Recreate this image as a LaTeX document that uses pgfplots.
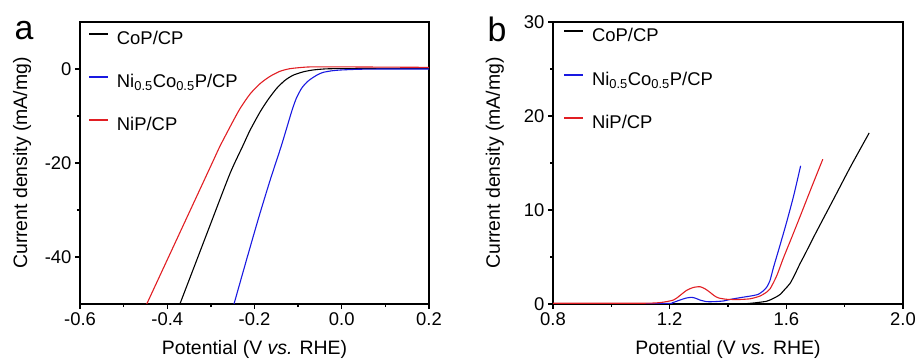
\documentclass[border=0pt]{standalone}
\usepackage{pgfplots}
\pgfplotsset{compat=1.18}
\usepackage{fontspec}
\setmainfont{Liberation Sans}
\definecolor{cred}{RGB}{225,30,35}
\definecolor{cblue}{RGB}{25,25,225}
\pgfplotsset{
  myax/.style={
    scale only axis, width=349bp, height=282bp,
    anchor=south west,
    axis line style={line width=1.6bp},
    tick style={line width=1.3bp, black},
    tick align=outside,
    major tick length=5bp, minor tick length=3bp,
    tick pos=left,
    ticklabel style={font=\fontsize{18.5}{20}\selectfont},
    label style={font=\fontsize{19.5}{22}\selectfont},
    /pgf/number format/assume math mode=true,
    xlabel={Potential (V \textit{vs.} RHE)},
    ylabel={Current density (mA/mg)},
    xlabel style={at={(axis description cs:0.5,-0.163)}, anchor=center},
    ylabel style={at={(axis description cs:-0.166,0.5)}, anchor=center},
    xticklabel style={/pgf/number format/.cd, fixed, fixed zerofill, precision=1},
    legend cell align=left,
    every axis plot/.append style={line width=1.1bp, mark=none, smooth, tension=0.4},
  },
  limg/.style={legend image code/.code={\draw[draw=#1, line width=1.7bp] (0bp,6bp) -- (19bp,6bp);}},
}
\begin{document}
\begin{tikzpicture}
\useasboundingbox (0,0) rectangle (919bp,363bp);
% ---------------- panel a
\begin{axis}[myax, at={(80bp,59bp)},
  xmin=-0.6, xmax=0.2, ymin=-50, ymax=10,
  xtick={-0.6,-0.4,-0.2,0,0.2}, minor xtick={-0.5,-0.3,-0.1,0.1},
  ytick={-40,-20,0}, minor ytick={-30,-10},
  legend style={draw=none, fill=none, inner sep=0pt,
    at={(axis description cs:0.023,0.973)}, anchor=north west,
    font=\fontsize{18.5}{20}\selectfont, row sep=22bp, column sep=6bp,
    nodes={inner sep=2bp, text height=13bp, text depth=4bp}},
]
\addplot[black, limg=black] coordinates {
(-0.371,-50) (-0.340,-42.5) (-0.300,-32.8) (-0.256,-22.2) (-0.226,-16.2)
(-0.210,-13.0) (-0.187,-9.1) (-0.168,-6.4) (-0.149,-4.1) (-0.130,-2.4)
(-0.111,-1.3) (-0.088,-0.6) (-0.065,-0.2) (-0.030,0.05) (0.05,0.1) (0.2,0.1)};
\addlegendentry{CoP/CP}
\addplot[cblue, limg=cblue] coordinates {
(-0.247,-50) (-0.218,-40.5) (-0.190,-31.5) (-0.164,-23.6) (-0.138,-16.2)
(-0.115,-9.1) (-0.104,-6.2) (-0.092,-4.1) (-0.080,-2.8) (-0.069,-2.0)
(-0.055,-1.2) (-0.042,-0.7) (-0.020,-0.35) (0.000,-0.2) (0.042,-0.05) (0.1,0.0) (0.2,0.0)};
\addlegendentry{Ni\textsubscript{0.5}Co\textsubscript{0.5}P/CP}
\addplot[cred, limg=cred] coordinates {
(-0.447,-50) (-0.397,-40) (-0.347,-30) (-0.297,-20) (-0.279,-16.4)
(-0.252,-11.6) (-0.233,-8.4) (-0.210,-5.3) (-0.187,-3.1) (-0.165,-1.6)
(-0.142,-0.5) (-0.120,0.05) (-0.096,0.3) (-0.070,0.45) (0.0,0.45) (0.1,0.4) (0.2,0.35)};
\addlegendentry{NiP/CP}
\end{axis}
\node[font=\fontsize{34}{34}\selectfont, anchor=center] at (24bp,332bp) {a};
% ---------------- panel b
\begin{axis}[myax, width=350bp, at={(553bp,59bp)},
  xmin=0.8, xmax=2.0, ymin=0, ymax=30,
  xtick={0.8,1.2,1.6,2.0}, minor xtick={1.0,1.4,1.8},
  ytick={0,10,20,30}, minor ytick={5,15,25},
  legend style={draw=none, fill=none, inner sep=0pt,
    at={(axis description cs:0.029,0.984)}, anchor=north west,
    font=\fontsize{18.5}{20}\selectfont, row sep=22.5bp, column sep=6bp,
    nodes={inner sep=2bp, text height=13bp, text depth=4bp}},
]
\addplot[black, limg=black] coordinates {
(0.80,0.0) (1.45,0.03) (1.475,0.07) (1.50,0.15) (1.533,0.3) (1.556,0.6)
(1.578,1.0) (1.596,1.6) (1.613,2.2) (1.630,3.2) (1.647,4.3) (1.664,5.3)
(1.70,7.5) (1.761,11.1) (1.82,14.6) (1.884,18.2)};
\addlegendentry{CoP/CP}
\addplot[cblue, limg=cblue] coordinates {
(0.80,0.0) (1.18,0.05) (1.21,0.15) (1.235,0.42) (1.255,0.62) (1.275,0.71)
(1.29,0.6) (1.304,0.42) (1.327,0.25) (1.35,0.25) (1.384,0.32) (1.41,0.5)
(1.441,0.67) (1.487,0.9) (1.505,1.05) (1.521,1.4) (1.533,1.8) (1.544,2.5)
(1.556,3.9) (1.575,5.9) (1.60,8.6) (1.625,11.5) (1.649,14.7)};
\addlegendentry{Ni\textsubscript{0.5}Co\textsubscript{0.5}P/CP}
\addplot[cred, limg=cred] coordinates {
(0.80,0.08) (1.10,0.08) (1.167,0.15) (1.213,0.42) (1.235,0.9) (1.258,1.45)
(1.28,1.75) (1.304,1.84) (1.322,1.6) (1.338,1.25) (1.352,0.9) (1.367,0.65)
(1.396,0.5) (1.44,0.48) (1.475,0.55) (1.495,0.7) (1.51,0.85) (1.527,1.15)
(1.544,1.6) (1.567,3.0) (1.59,4.9) (1.62,7.2) (1.647,9.3) (1.685,12.3) (1.725,15.4)};
\addlegendentry{NiP/CP}
\end{axis}
\node[font=\fontsize{34}{34}\selectfont, anchor=center] at (497bp,334bp) {b};
\end{tikzpicture}
\end{document}
